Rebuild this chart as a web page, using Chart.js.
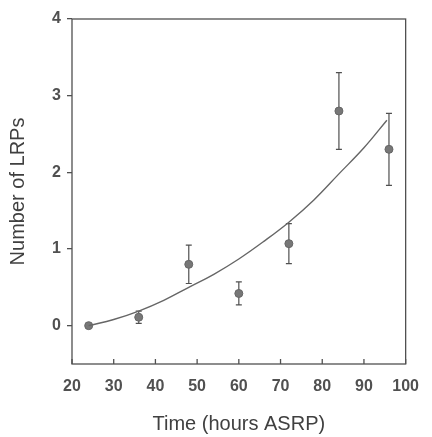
<!DOCTYPE html>
<html>
<head>
<meta charset="utf-8">
<script src="https://cdn.jsdelivr.net/npm/chart.js@4"></script>
<style>
  html, body { margin: 0; padding: 0; background: #fff; }
  #wrap { width: 432px; height: 437px; }
</style>
</head>
<body>
<div id="wrap"><canvas id="chart" width="432" height="437"></canvas></div>
<script>
// data
const times = [24, 36, 48, 60, 72, 84, 96];
const lrpMeans = [0, 0.11, 0.80, 0.42, 1.07, 2.80, 2.30];
const lrpErrors = [0, 0.08, 0.25, 0.15, 0.26, 0.50, 0.47];

// fitted curve
const fitTimes = [24, 30, 36, 42, 48, 54, 60, 66, 72, 78, 84, 90, 95.5];
const fitValues = [0, 0.08, 0.19, 0.33, 0.50, 0.67, 0.87, 1.10, 1.35, 1.64, 1.98, 2.32, 2.68];

const yTicks = [0, 1, 2, 3, 4];
const xTicks = [20, 30, 40, 50, 60, 70, 80, 90, 100];

const ink = '#505050';
const titleInk = '#404040';
const fontFamily = '"Liberation Sans", Arial, sans-serif';

// frame, inward x ticks and error bars
const decorations = {
    id: 'decorations',
    beforeDatasetsDraw(chart) {
        const { ctx, chartArea: a, scales: { x, y } } = chart;
        ctx.save();
        ctx.strokeStyle = ink;
        ctx.lineWidth = 1.3;
        ctx.strokeRect(a.left, a.top, a.right - a.left, a.bottom - a.top);

        xTicks.forEach(v => {
            const px = x.getPixelForValue(v);
            ctx.beginPath();
            ctx.moveTo(px, a.bottom);
            ctx.lineTo(px, a.bottom - 5);
            ctx.stroke();
        });

        ctx.lineWidth = 1.2;
        times.forEach((t, i) => {
            if (!lrpErrors[i]) return;
            const px = x.getPixelForValue(t);
            const lo = y.getPixelForValue(lrpMeans[i] - lrpErrors[i]);
            const hi = y.getPixelForValue(lrpMeans[i] + lrpErrors[i]);
            ctx.beginPath();
            ctx.moveTo(px, lo); ctx.lineTo(px, hi);
            ctx.moveTo(px - 3, lo); ctx.lineTo(px + 3, lo);
            ctx.moveTo(px - 3, hi); ctx.lineTo(px + 3, hi);
            ctx.stroke();
        });
        ctx.restore();
    }
};

new Chart(document.getElementById('chart').getContext('2d'), {
    type: 'scatter',
    data: {
        datasets: [
            {
                label: 'Fit',
                data: fitTimes.map((t, i) => ({ x: t, y: fitValues[i] })),
                showLine: true,
                tension: 0.4,
                borderColor: '#666666',
                borderWidth: 1.4,
                pointRadius: 0
            },
            {
                label: 'LRPs',
                data: times.map((t, i) => ({ x: t, y: lrpMeans[i] })),
                pointRadius: 4,
                backgroundColor: '#777777',
                borderColor: '#666666',
                borderWidth: 1
            }
        ]
    },
    plugins: [decorations],
    options: {
        responsive: false,
        animation: false,
        layout: { padding: { top: 19, right: 15, left: 0, bottom: 0 } },
        plugins: {
            legend: { display: false },
            tooltip: { enabled: false }
        },
        scales: {
            x: {
                type: 'linear',
                min: 20,
                max: 100,
                afterBuildTicks: s => { s.ticks = xTicks.map(v => ({ value: v })); },
                afterFit: s => { s.height = 73; },
                grid: { display: false, drawTicks: false },
                border: { display: false },
                ticks: {
                    padding: 13,
                    color: ink,
                    font: { family: fontFamily, size: 16, weight: 'bold' }
                },
                title: {
                    display: true,
                    text: 'Time (hours ASRP)',
                    color: titleInk,
                    padding: { top: 0, bottom: 1 },
                    font: { family: fontFamily, size: 20 }
                }
            },
            y: {
                min: -0.5,
                max: 4,
                afterBuildTicks: s => { s.ticks = yTicks.map(v => ({ value: v })); },
                afterFit: s => { s.width = 72; },
                grid: { drawOnChartArea: false, tickLength: 5, color: ink, lineWidth: 1.3 },
                border: { display: false },
                ticks: {
                    padding: 6,
                    color: ink,
                    font: { family: fontFamily, size: 16, weight: 'bold' }
                },
                title: {
                    display: true,
                    text: 'Number of LRPs',
                    color: titleInk,
                    padding: { top: 6, bottom: 0 },
                    font: { family: fontFamily, size: 20 }
                }
            }
        }
    }
});
</script>
</body>
</html>
